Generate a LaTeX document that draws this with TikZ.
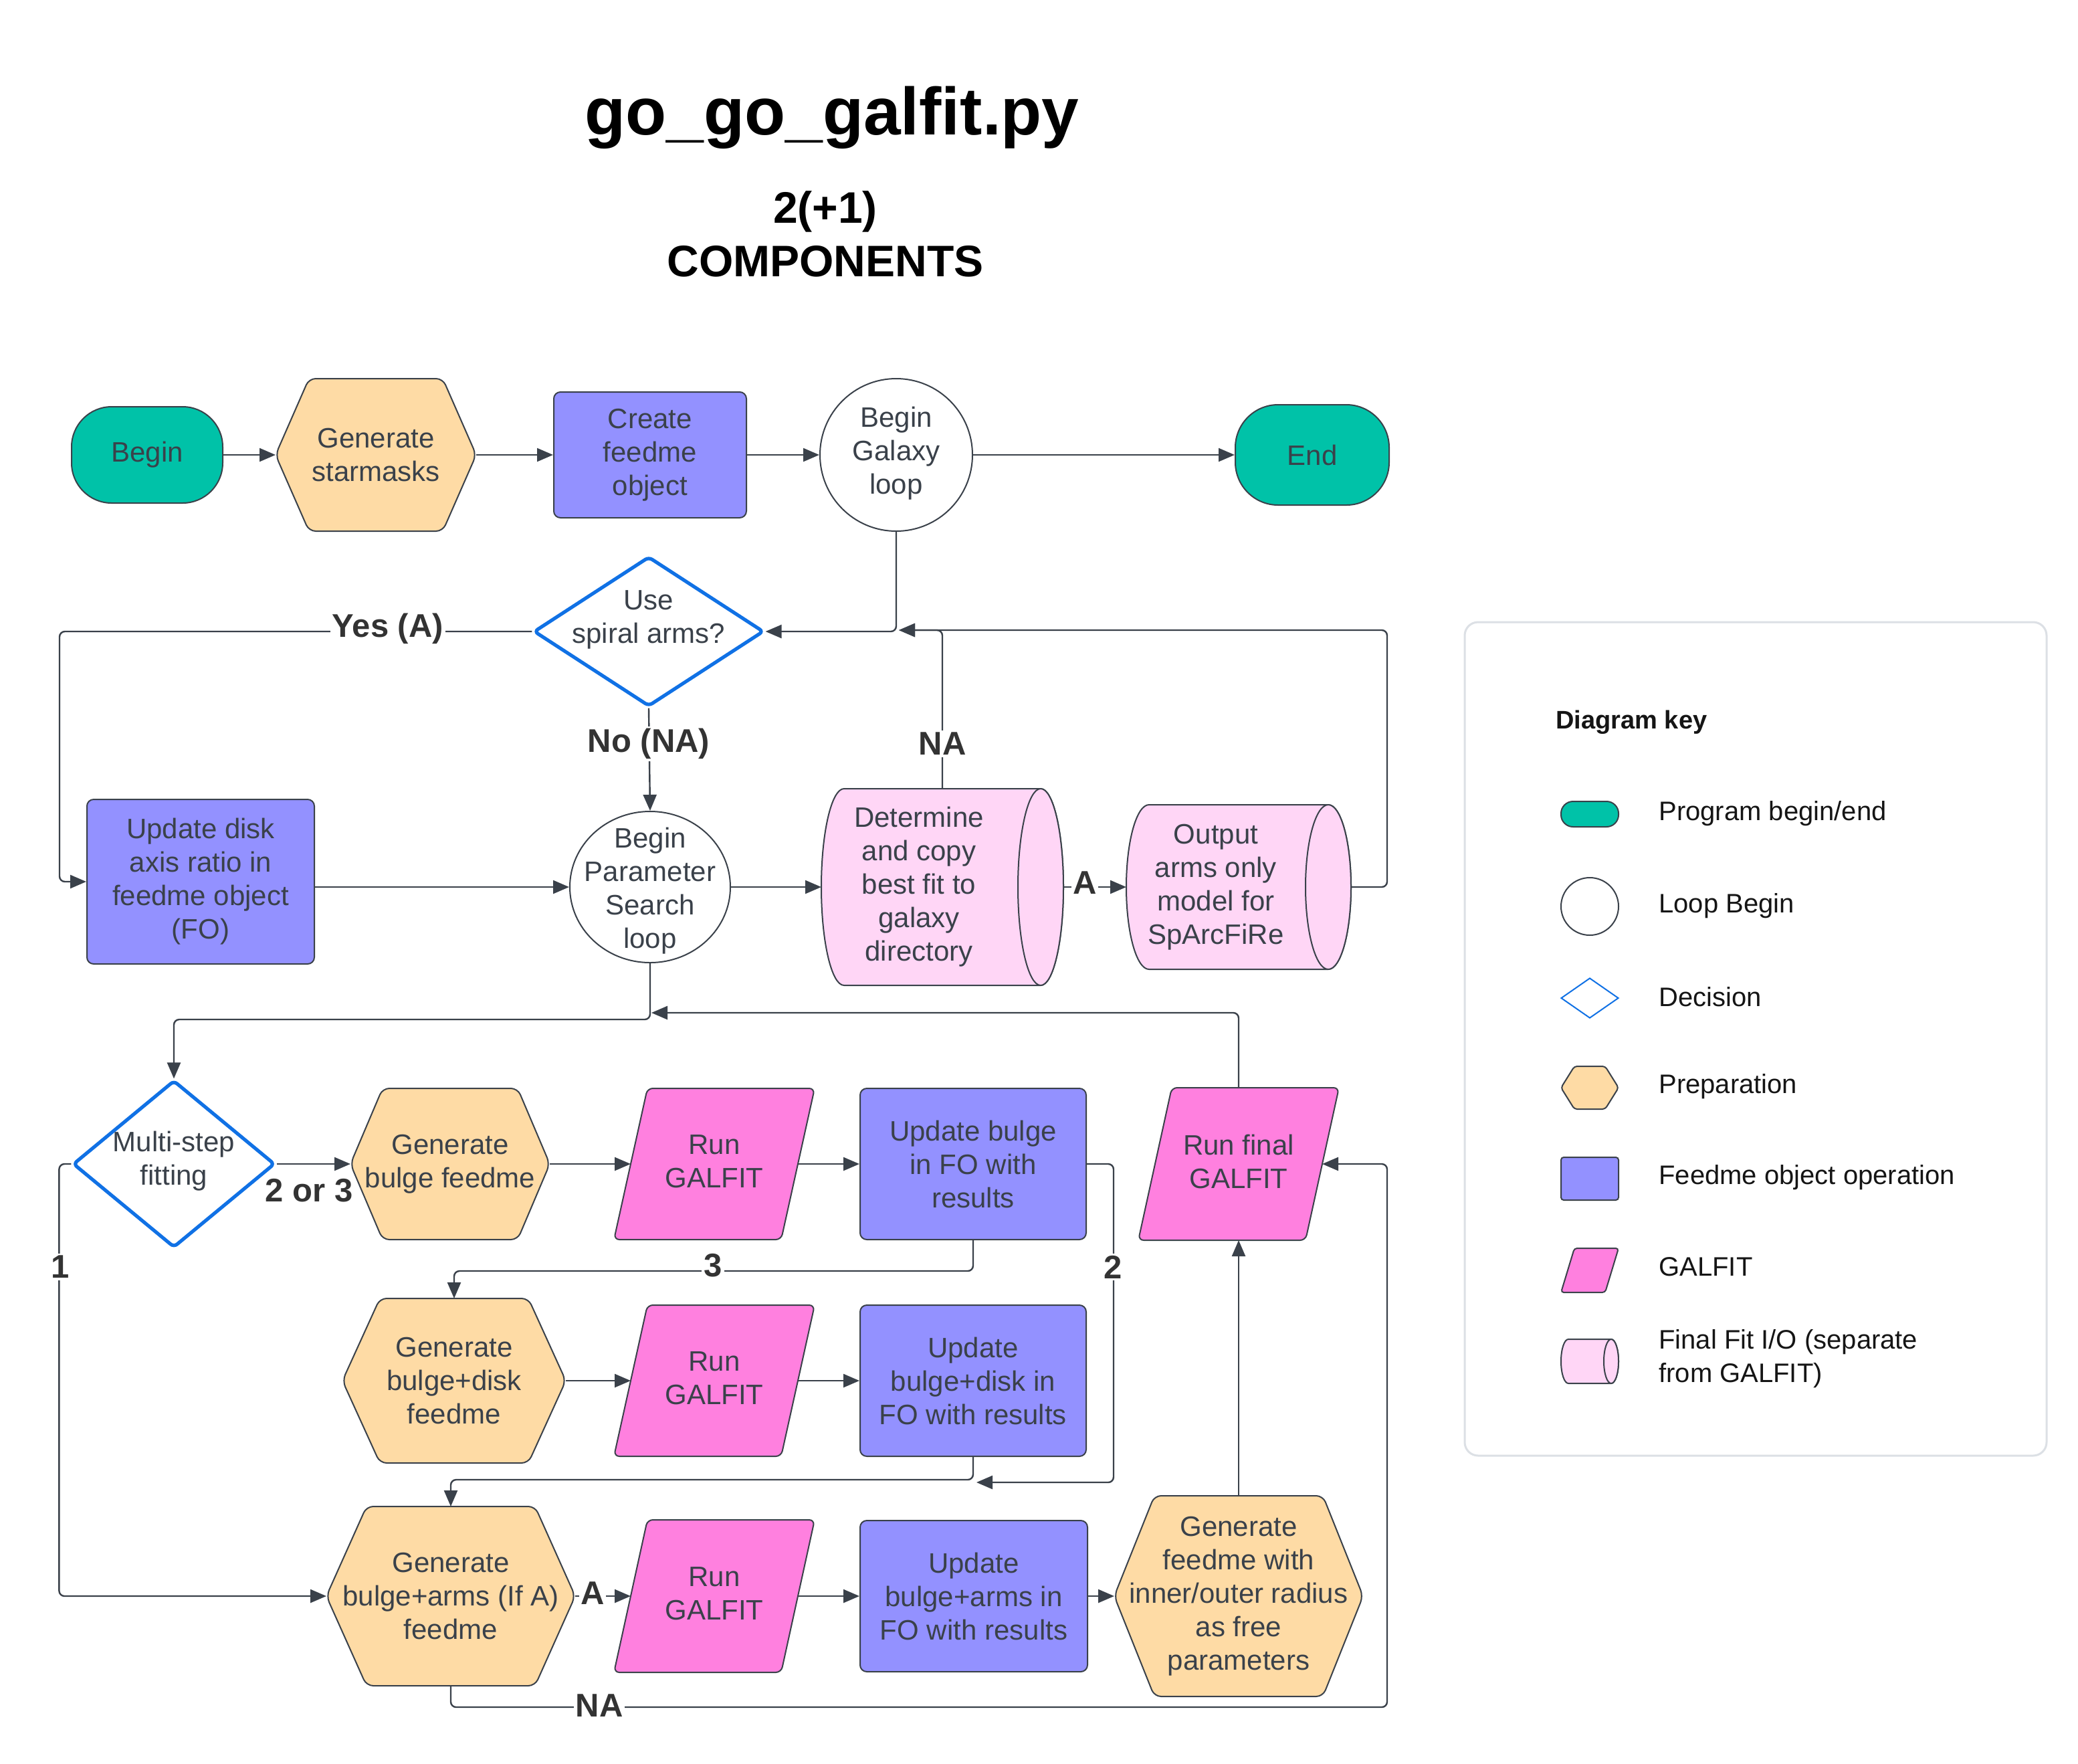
\documentclass[tikz,border=0pt]{standalone}
\usepackage{fontspec}
\setmainfont{Liberation Sans}
\usetikzlibrary{shapes.geometric,arrows.meta,calc}
\definecolor{cInk}{HTML}{3A414A}
\definecolor{cTeal}{HTML}{00C2A8}
\definecolor{cOrange}{HTML}{FEDBA5}
\definecolor{cBlue}{HTML}{9391FF}
\definecolor{cPink}{HTML}{FF80DF}
\definecolor{cLpink}{HTML}{FFD6F6}
\definecolor{cDec}{HTML}{1071E5}
\definecolor{cKeyB}{HTML}{DCE0E5}
\definecolor{cLbl}{HTML}{333333}
\definecolor{cKey}{HTML}{151515}
\tikzset{
 box/.style={rectangle,inner sep=0pt,outer sep=0pt,draw=none},
 txt/.style={align=center,inner sep=0pt,text=cInk,font=\fontsize{21}{25}\selectfont},
 lbl/.style={font=\bfseries\fontsize{24.5}{28}\selectfont,text=cLbl,inner sep=1.5pt},
 klbl/.style={anchor=west,inner sep=0pt,text=cKey,align=left,font=\fontsize{20}{25}\selectfont},
 con/.style={draw=cInk,line width=1.2pt,rounded corners=4pt},
 arr/.style={con,-{Triangle[length=12pt,width=10pt]}},
 bd/.style={draw=cInk,line width=1pt},
 prep/.style={bd,fill=cOrange,rounded corners=5pt},
 fo/.style={bd,fill=cBlue,rounded corners=5pt},
 gal/.style={bd,fill=cPink,rounded corners=4pt},
 io/.style={bd,fill=cLpink},
 term/.style={bd,fill=cTeal},
 loopc/.style={ellipse,bd,fill=white,inner sep=0pt},
 dec/.style={diamond,draw=cDec,line width=2.6pt,fill=white,inner sep=0pt,rounded corners=3pt},
}
% name x y w h inset style
\newcommand\hexnode[7]{%
 \node[box,minimum width=#4pt,minimum height=#5pt] (#1) at (#2,#3) {};
 \path[#7] (#1.west) -- ([xshift=#6pt]#1.north west) -- ([xshift=-#6pt]#1.north east) -- (#1.east) -- ([xshift=-#6pt]#1.south east) -- ([xshift=#6pt]#1.south west) -- cycle;}
% name x y w h slant style
\newcommand\parnode[7]{%
 \node[box,minimum width=#4pt,minimum height=#5pt] (#1) at (#2,#3) {};
 \path[#7] ([xshift=#6pt]#1.north west) -- (#1.north east) -- ([xshift=-#6pt]#1.south east) -- (#1.south west) -- cycle;
 \coordinate (#1-l) at ([xshift=#6pt/2]#1.west);
 \coordinate (#1-r) at ([xshift=-#6pt/2]#1.east);}
% name x y w h r hh style
\newcommand\cylnode[8]{%
 \node[box,minimum width=#4pt,minimum height=#5pt] (#1) at (#2,#3) {};
 \path[#8] ([xshift=-#6pt]#1.north east) -- ([xshift=#6pt]#1.north west) arc[start angle=90,end angle=270,x radius=#6pt,y radius=#7pt] -- ([xshift=-#6pt]#1.south east) arc[start angle=-90,end angle=90,x radius=#6pt,y radius=#7pt] -- cycle;
 \path[#8] ([xshift=-#6pt]#1.east) ellipse[x radius=#6pt,y radius=#7pt];}
\begin{document}
\begin{tikzpicture}[x=1pt,y=1pt]
\useasboundingbox[fill=white] (0,0) rectangle (1553.5,-1318);
% titles
\node[font=\bfseries\fontsize{50}{56}\selectfont,inner sep=0pt] (title) at (622,-88) {go\_go\_galfit.py};
\node[font=\bfseries\fontsize{33}{40}\selectfont,align=center,inner sep=0pt] (sub) at (617,-175) {2(+1)\\COMPONENTS};
% row 1
\node[term,txt,rounded corners=30pt,minimum width=113pt,minimum height=72pt] (begin) at (110,-340) {Begin};
\hexnode{stm}{281}{-340}{150}{114}{25}{prep}
\node[txt] (stm-t) at (stm) {Generate\\starmasks};
\node[fo,txt,minimum width=144pt,minimum height=94pt] (cfo) at (486,-340) {Create\\feedme\\object};
\node[loopc,minimum width=114pt,minimum height=114pt] (gal) at (670,-340) {};
\node[txt] (gal-t) at (670,-339) {Begin\\Galaxy\\loop};
\node[term,txt,rounded corners=32pt,minimum width=115pt,minimum height=75pt] (end) at (981,-340) {End};
% row 2
\node[dec,minimum width=172pt,minimum height=112pt] (usa) at (485,-472) {};
\node[txt] (usa-t) at (485,-463) {Use\\spiral arms?};
% row 3
\node[fo,txt,minimum width=170pt,minimum height=123pt] (upd) at (150,-659) {Update disk\\axis ratio in\\feedme object\\(FO)};
\node[loopc,minimum width=120pt,minimum height=113pt] (ppl) at (486,-663) {};
\node[txt] (ppl-t) at (486,-666) {Begin\\Parameter\\Search\\loop};
\cylnode{det}{704.5}{-663}{181}{147}{17}{73.5}{io}
\node[txt] (det-t) at (687,-663) {Determine\\and copy\\best fit to\\galaxy\\directory};
\cylnode{out}{926}{-663}{168}{123}{17}{61.5}{io}
\node[txt] (out-t) at (909,-663) {Output\\arms only\\model for\\SpArcFiRe};
% row 4
\node[dec,minimum width=151pt,minimum height=125pt] (msf) at (130,-870) {};
\node[txt] (msf-t) at (130,-868) {Multi-step\\fitting};
\hexnode{gbf}{336.5}{-870}{149}{113}{24}{prep}
\node[txt] (gbf-t) at (gbf) {Generate\\bulge feedme};
\parnode{rg1}{534}{-870}{150}{113}{25}{gal}
\node[txt] (rg1-t) at (534,-868) {Run\\GALFIT};
\node[fo,txt,minimum width=169pt,minimum height=113pt] (ubf) at (727.5,-870) {Update bulge\\in FO with\\results};
\parnode{rfg}{926}{-870}{150}{114}{25}{gal}
\node[txt] (rfg-t) at (926,-868) {Run final\\GALFIT};
% row 5
\hexnode{gbd}{339.5}{-1032}{167}{123}{28}{prep}
\node[txt] (gbd-t) at (gbd) {Generate\\bulge+disk\\feedme};
\parnode{rg2}{534}{-1032}{150}{113}{25}{gal}
\node[txt] (rg2-t) at (534,-1030) {Run\\GALFIT};
\node[fo,txt,minimum width=169pt,minimum height=113pt] (ubd) at (727.5,-1032) {Update\\bulge+disk in\\FO with results};
% row 6
\hexnode{gba}{337}{-1193}{186}{134}{30}{prep}
\node[txt] (gba-t) at (gba) {Generate\\bulge+arms (If A)\\feedme};
\parnode{rg3}{534}{-1193}{150}{114}{25}{gal}
\node[txt] (rg3-t) at (534,-1191) {Run\\GALFIT};
\node[fo,txt,minimum width=170pt,minimum height=113pt] (uba) at (728,-1193) {Update\\bulge+arms in\\FO with results};
\hexnode{gfr}{926}{-1193}{186}{150}{30}{prep}
\node[txt] (gfr-t) at (gfr) {Generate\\feedme with\\inner/outer radius\\as free\\parameters};
% connectors
\draw[arr] (begin.east) -- (stm.west);
\draw[arr] (stm.east) -- (cfo.west);
\draw[arr] (cfo.east) -- (gal.west);
\draw[arr] (gal.east) -- (end.west);
\draw[arr] (gal.south) |- (usa.east);
\coordinate (ret) at (672,-471);
\draw[arr] (out.east) -- ++(27,0) |- (ret);
\draw[arr] (det.north) |- (ret);
\node[lbl,fill=white] (lna1) at (704.5,-556) {NA};
\draw[arr] (usa.west) -| ([xshift=-20pt]upd.west) -- (upd.west);
\node[lbl,fill=white] (lyes) at (290,-470) {Yes (A)};
\draw[arr] (usa.south) -- (ppl.north);
\node[lbl,fill=white] (lno) at (485,-556) {No (NA)};
\draw[arr] (upd.east |- ppl.west) -- (ppl.west);
\draw[arr] (ppl.east) -- (det.west);
\draw[arr] (det.east) -- (out.west);
\node[lbl,fill=white,inner sep=1pt] (la1) at (811,-660) {A};
\draw[arr] (ppl.south) -- ++(0,-42) -| (msf.north);
\coordinate (ret2) at (487,-757);
\draw[arr] (rfg.north) |- (ret2);
\draw[arr] (msf.east) -- (gbf.west);
\node[lbl] (l23) at (231,-890) {2 or 3};
\draw[arr] (gbf.east) -- (rg1-l);
\draw[arr] (rg1-r) -- (ubf.west);
\draw[arr] (ubf.south) -- ++(0,-23) -| (gbd.north);
\node[lbl,fill=white] (l3) at (533,-946) {3};
\coordinate (ret3) at (730,-1108);
\draw[arr] (ubf.east) -- ++(20,0) |- (ret3);
\node[lbl,fill=white] (l2) at (832,-947) {2};
\draw[arr] (gbd.east) -- (rg2-l);
\draw[arr] (rg2-r) -- (ubd.west);
\draw[arr] (ubd.south) -- ++(0,-17) -| (gba.north);
\draw[arr] (msf.west) -- ++(-9,0) |- (gba.west);
\node[lbl,fill=white] (l1) at (45,-947) {1};
\draw[arr] (gba.east) -- (rg3-l);
\node[lbl,fill=white,inner sep=1pt] (la2) at (443,-1191) {A};
\draw[arr] (rg3-r) -- (uba.west);
\draw[arr] (uba.east) -- (gfr.west);
\draw[arr] (gfr.north) -- (rfg.south);
\draw[arr] (gba.south) -- ++(0,-16) -| ([xshift=36pt]rfg.east) -- (rfg-r);
\node[lbl,fill=white] (lna2) at (448,-1275) {NA};
% key
\node[draw=cKeyB,line width=1.5pt,rounded corners=10pt,minimum width=435pt,minimum height=623pt,inner sep=0pt] (key) at (1312.5,-776.5) {};
\node[anchor=west,inner sep=0pt,text=cKey,font=\bfseries\fontsize{19}{22}\selectfont] (keyt) at (1163,-540) {Diagram key};
\node[term,rounded corners=9pt,minimum width=43pt,minimum height=19pt,inner sep=0pt] (k1) at (1188.5,-608.5) {};
\node[ellipse,bd,minimum width=43pt,minimum height=43pt,inner sep=0pt] (k2) at (1188.5,-677.5) {};
\node[diamond,draw=cDec,line width=1pt,minimum width=43pt,minimum height=30pt,inner sep=0pt] (k3) at (1188.5,-746) {};
\hexnode{k4}{1188.5}{-813}{43}{32}{10}{prep,rounded corners=2pt}
\node[fo,rounded corners=2pt,minimum width=43pt,minimum height=32pt,inner sep=0pt] (k5) at (1188.5,-881) {};
\parnode{k6}{1188.5}{-949.5}{43}{33}{10}{gal,rounded corners=2pt}
\cylnode{k7}{1188.5}{-1017.5}{43}{33}{5.5}{16.5}{io}
\node[klbl] (k1t) at (1240,-608) {Program begin/end};
\node[klbl] (k2t) at (1240,-677) {Loop Begin};
\node[klbl] (k3t) at (1240,-745) {Decision};
\node[klbl] (k4t) at (1240,-812) {Preparation};
\node[klbl] (k5t) at (1240,-880) {Feedme object operation};
\node[klbl] (k6t) at (1240,-947) {GALFIT};
\node[klbl] (k7t) at (1240,-1015.5) {Final Fit I/O (separate\\from GALFIT)};
\end{tikzpicture}
\end{document}
